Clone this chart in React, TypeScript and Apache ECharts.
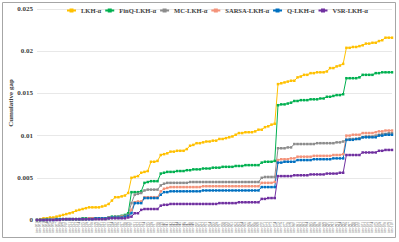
import React, { useEffect, useRef } from "react";
import * as echarts from "echarts";

const categories = [
  "ins-001","ins-002","ins-003","ins-004","ins-005","ins-006","ins-007","ins-008","ins-009","ins-010",
  "ins-011","ins-012","ins-013","ins-014","ins-015","ins-016","ins-017","ins-018","ins-019","ins-020",
  "ins-021","ins-022","ins-023","ins-024","ins-025","ins-026","ins-027","ins-028","ins-029","ins-030",
  "ins-031","ins-032","ins-033","ins-034","ins-035","ins-036","ins-037","ins-038","ins-039","ins-040",
  "ins-041","ins-042","ins-043","ins-044","ins-045","ins-046","ins-047","ins-048","ins-049","ins-050",
  "ins-051","ins-052","ins-053","ins-054","ins-055","ins-056","ins-057","ins-058","ins-059","ins-060",
  "ins-061","ins-062","ins-063","ins-064","ins-065","ins-066","ins-067","ins-068","ins-069","ins-070",
  "ins-071","ins-072","ins-073","ins-074","ins-075","ins-076","ins-077","ins-078","ins-079","ins-080",
  "ins-081","ins-082","ins-083","ins-084","ins-085","ins-086","ins-087","ins-088","ins-089","ins-090",
  "ins-091","ins-092","ins-093","ins-094","ins-095","ins-096","ins-097","ins-098","ins-099","ins-100",
  "ins-101","ins-102","ins-103","ins-104","ins-105","ins-106","ins-107","ins-108","ins-109","ins-110"
];

const lkh = [
  0,0.0001,0.0002,0.0002, 0.0003,0.0003,0.0004,0.0005, 0.0006,0.0007,0.0008,0.0009,0.0011,
  0.0012,0.0013,0.0014, 0.0015,0.0015,0.0015,0.0015,0.0016,0.0017, 0.0019,0.0023,
  0.0027,0.0027,0.0028,0.0029, 0.0032, 0.0050,0.0051,0.0052, 0.0056,0.0057,0.0058,
  0.0069,0.0069,0.0070, 0.0077,0.0078,0.0079, 0.0081,0.0081,0.0082,0.0082,0.0082, 0.0084,
  0.0088,0.0089, 0.0091,0.0091, 0.0092,0.0093,0.0093, 0.0094,0.0094, 0.0096,0.0096,0.0097,
  0.0098,0.0099, 0.0101, 0.0103,0.0103,0.0104,0.0104, 0.0104,0.0105, 0.0107,0.0107,
  0.0110,0.0111, 0.0113,0.0114, 0.0161,0.0162, 0.0163,0.0164, 0.0165,0.0165, 0.0169,0.0170,
  0.0172,0.0172, 0.0174,0.0174,0.0175,0.0175,0.0175,0.0176, 0.0180,0.0180, 0.0182,0.0183,
  0.0185, 0.0204,0.0204, 0.0205,0.0205, 0.0206,0.0207, 0.0209,0.0209, 0.0210,0.0210,
  0.0212,0.0213, 0.0216,0.0216,0.0216
];

const finq = [
  0,0,0,0.0001,0.0001,0.0001,0.0001,0.0001,0.0001,0.0001,
  0.0001,0.0001,0.0001,0.0001,0.0002,0.0002,0.0002,0.0002,0.0002,0.0002,
  0.0002,0.0002,0.0003,0.0004,0.0004,0.0004,
  0.0005,0.0006,0.0008,
  0.0033,0.0033,0.0033,0.0034,
  0.0044,0.0045,0.0046,0.0046,
  0.0046,
  0.0055,0.0056,0.0057,
  0.0057,0.0057,0.0058,0.0058,0.0058,
  0.0059,0.0059,0.0060,0.0060,
  0.0060,0.0061,0.0061,0.0061,0.0062,0.0062,
  0.0062,0.0063,0.0063,0.0063,0.0063,
  0.0064,0.0064,0.0064,0.0065,0.0065,0.0065,0.0065,0.0065,
  0.0068,0.0069,0.0069,0.0069,0.0070,
  0.0136,0.0137,0.0137,
  0.0138,0.0139,
  0.0141,
  0.0141,0.0142,0.0142,0.0142,
  0.0143,0.0143,0.0143,0.0144,0.0144,
  0.0146,0.0146,0.0147,
  0.0148,0.0148,0.0149,
  0.0168,0.0168,0.0168,0.0168,0.0169,
  0.0172,0.0172,0.0172,0.0172,
  0.0174,0.0174,0.0175,0.0175,0.0175,0.0175
];

const mc = [
  0,0,0,0,0.0001,0.0001,0.0001,0.0001,0.0001,0.0001,
  0.0001,0.0001,0.0001,0.0001,0.0001,0.0001,0.0002,0.0002,0.0002,0.0002,
  0.0002,0.0002,0.0003,0.0003,0.0004,0.0004,
  0.0004,0.0005,0.0006,
  0.0020,
  0.0030,0.0031,0.0032,
  0.0035,0.0036,0.0036,0.0036,0.0036,
  0.0041,0.0043,0.0044,
  0.0044,0.0044,0.0044,0.0044,0.0044,0.0044,0.0045,0.0045,0.0045,0.0045,
  0.0045,0.0045,0.0045,0.0045,0.0045,0.0045,0.0045,0.0045,0.0045,0.0045,
  0.0045,0.0045,0.0045,0.0045,0.0045,0.0045,0.0045,0.0045,
  0.0050,0.0051,0.0051,0.0051,0.0051,
  0.0085,0.0085,0.0085,0.0086,0.0086,
  0.0090,0.0090,0.0090,0.0090,0.0090,0.0090,0.0090,0.0091,0.0091,0.0091,0.0091,0.0091,0.0091,
  0.0092,0.0092,0.0093,
  0.0095,0.0096,0.0096,0.0096,0.0097,
  0.0098,0.0099,0.0099,0.0099,0.0100,
  0.0101,0.0102,0.0102,0.0103,0.0103
];

const sarsa = [
  0,0,0,0,0,0.0001,0.0001,0.0001,0.0001,0.0001,
  0.0001,0.0001,0.0001,0.0001,0.0001,0.0001,0.0002,0.0002,0.0002,0.0002,
  0.0002,0.0002,0.0002,0.0003,0.0003,0.0003,
  0.0004,0.0004,0.0005,
  0.0012,
  0.0021,0.0022,0.0022,
  0.0027,0.0027,0.0027,0.0027,0.0027,
  0.0034,0.0037,0.0038,
  0.0039,0.0039,0.0039,0.0039,0.0039,0.0039,0.0039,0.0039,0.0039,0.0039,
  0.0040,0.0040,0.0040,0.0040,0.0040,0.0040,0.0040,0.0040,0.0040,0.0040,
  0.0040,0.0040,0.0040,0.0040,0.0040,0.0040,0.0040,0.0040,
  0.0044,0.0044,0.0044,0.0044,0.0045,
  0.0071,0.0072,0.0072,0.0072,0.0073,0.0073,
  0.0075,0.0075,0.0075,0.0075,0.0075,0.0076,0.0076,0.0076,0.0076,0.0076,0.0076,0.0077,0.0077,0.0077,0.0078,
  0.0100,0.0100,0.0101,0.0101,0.0101,
  0.0103,0.0103,0.0103,0.0103,0.0104,
  0.0105,0.0105,0.0106,0.0106,0.0106
];

const qlkh = [
  0,0,0,0,0,0,0.0001,0.0001,0.0001,0.0001,
  0.0001,0.0001,0.0001,0.0001,0.0001,0.0001,0.0001,0.0001,0.0002,0.0002,
  0.0002,0.0002,0.0002,0.0003,0.0003,0.0003,
  0.0003,0.0004,0.0005,
  0.0008,
  0.0020,0.0020,0.0020,
  0.0026,0.0026,0.0026,0.0026,0.0026,
  0.0030,0.0033,0.0033,
  0.0034,0.0034,0.0034,0.0034,0.0034,0.0034,0.0034,0.0034,0.0034,0.0034,
  0.0035,0.0035,0.0035,0.0035,0.0035,0.0035,0.0035,0.0035,0.0035,0.0035,
  0.0035,0.0035,0.0035,0.0035,0.0035,0.0035,0.0035,0.0035,
  0.0039,0.0039,0.0039,0.0039,0.0039,
  0.0068,0.0068,0.0069,0.0069,0.0069,0.0069,
  0.0071,0.0071,0.0071,0.0071,0.0071,0.0072,0.0072,0.0072,0.0072,0.0072,0.0072,0.0073,0.0073,0.0073,0.0073,
  0.0095,0.0095,0.0095,0.0096,0.0096,
  0.0098,0.0098,0.0098,0.0098,0.0098,
  0.0100,0.0100,0.0101,0.0101,0.0101
];

const vsr = [
  0,0,0,0,0,0,0,0,0.0001,0.0001,
  0.0001,0.0001,0.0001,0.0001,0.0001,0.0001,0.0001,0.0001,0.0001,0.0001,
  0.0001,0.0001,0.0002,0.0002,0.0002,0.0002,
  0.0002,0.0002,0.0003,
  0.0004,0.0008,0.0008,0.0012,
  0.0013,0.0013,0.0013,0.0013,0.0013,
  0.0017,0.0018,0.0018,
  0.0019,0.0019,0.0019,0.0019,0.0019,0.0019,0.0019,0.0019,0.0019,0.0019,0.0019,0.0019,0.0019,0.0019,0.0019,
  0.0020,0.0020,0.0020,0.0020,0.0020,0.0020,0.0021,0.0021,0.0021,0.0021,0.0021,0.0021,0.0021,
  0.0025,0.0025,0.0026,0.0026,0.0026,
  0.0052,0.0052,0.0052,0.0052,0.0052,0.0053,0.0053,0.0053,0.0053,0.0053,
  0.0054,0.0054,0.0054,0.0054,0.0054,0.0055,0.0055,0.0055,0.0055,0.0056,0.0056,
  0.0077,0.0077,0.0077,0.0077,0.0077,
  0.0080,0.0080,0.0080,0.0080,0.0080,
  0.0082,0.0082,0.0083,0.0083,0.0083
];

const seriesNames = ["LKH-α", "FinQ-LKH-α", "MC-LKH-α", "SARSA-LKH-α", "Q-LKH-α", "VSR-LKH-α"];
const seriesData = [lkh, finq, mc, sarsa, qlkh, vsr];
const seriesColors = ["#FFC000", "#00B050", "#8C8C8C", "#F4937A", "#0070C0", "#7030A0"];

export default function App() {
  const ref = useRef<HTMLDivElement>(null);
  useEffect(() => {
    if (!ref.current) return;
    const chart = echarts.init(ref.current, null, { renderer: "svg" });
    const font = "'Liberation Serif', 'Times New Roman', serif";
    chart.setOption({
      animation: false,
      backgroundColor: "#ffffff",
      grid: { left: 37, right: 7, top: 9, bottom: 22, containLabel: false },
      legend: {
        data: seriesNames,
        left: 66,
        top: 7,
        itemWidth: 9,
        itemHeight: 5,
        itemGap: 3,
        padding: 0,
        textStyle: { fontSize: 6.5, fontWeight: "bold", fontFamily: font, color: "#404040" },
      },
      xAxis: {
        type: "category",
        data: categories,
        boundaryGap: false,
        axisLine: { show: true, lineStyle: { color: "#d9d9d9", width: 1 } },
        axisTick: { show: false },
        axisLabel: {
          interval: 0,
          rotate: 90,
          fontSize: 3.5,
          margin: 2,
          color: "#595959",
          fontFamily: font,
        },
        splitLine: { show: false },
      },
      yAxis: {
        type: "value",
        min: 0,
        max: 0.025,
        interval: 0.005,
        axisLine: { show: false },
        axisTick: { show: false },
        axisLabel: {
          fontSize: 7,
          fontWeight: "bold",
          margin: 4,
          color: "#404040",
          fontFamily: font,
        },
        splitLine: { show: true, lineStyle: { color: "#e8e8e8", width: 1 } },
      },
      graphic: [
        {
          type: "rect",
          shape: { x: 2.5, y: 2.5, width: 393, height: 235 },
          style: { fill: "none", stroke: "#a6a6a6", lineWidth: 1 },
          silent: true,
        },
        {
          type: "text",
          x: 11,
          y: 103,
          rotation: Math.PI / 2,
          style: {
            text: "Cumulative gap",
            fontSize: 7,
            fontWeight: "bold",
            fontFamily: font,
            fill: "#404040",
            align: "center",
            verticalAlign: "middle",
          },
        },
      ],
      series: seriesNames.map((name, k) => ({
        name,
        type: "line",
        data: seriesData[k],
        symbol: "rect",
        symbolSize: 2.5,
        showAllSymbol: true,
        color: seriesColors[k],
        lineStyle: { width: 1, color: seriesColors[k] },
        itemStyle: { color: seriesColors[k] },
      })),
    });
    return () => chart.dispose();
  }, []);
  return (
    <div
      ref={ref}
      style={{ position: "absolute", left: 0, top: 0, width: 399, height: 242 }}
    />
  );
}
